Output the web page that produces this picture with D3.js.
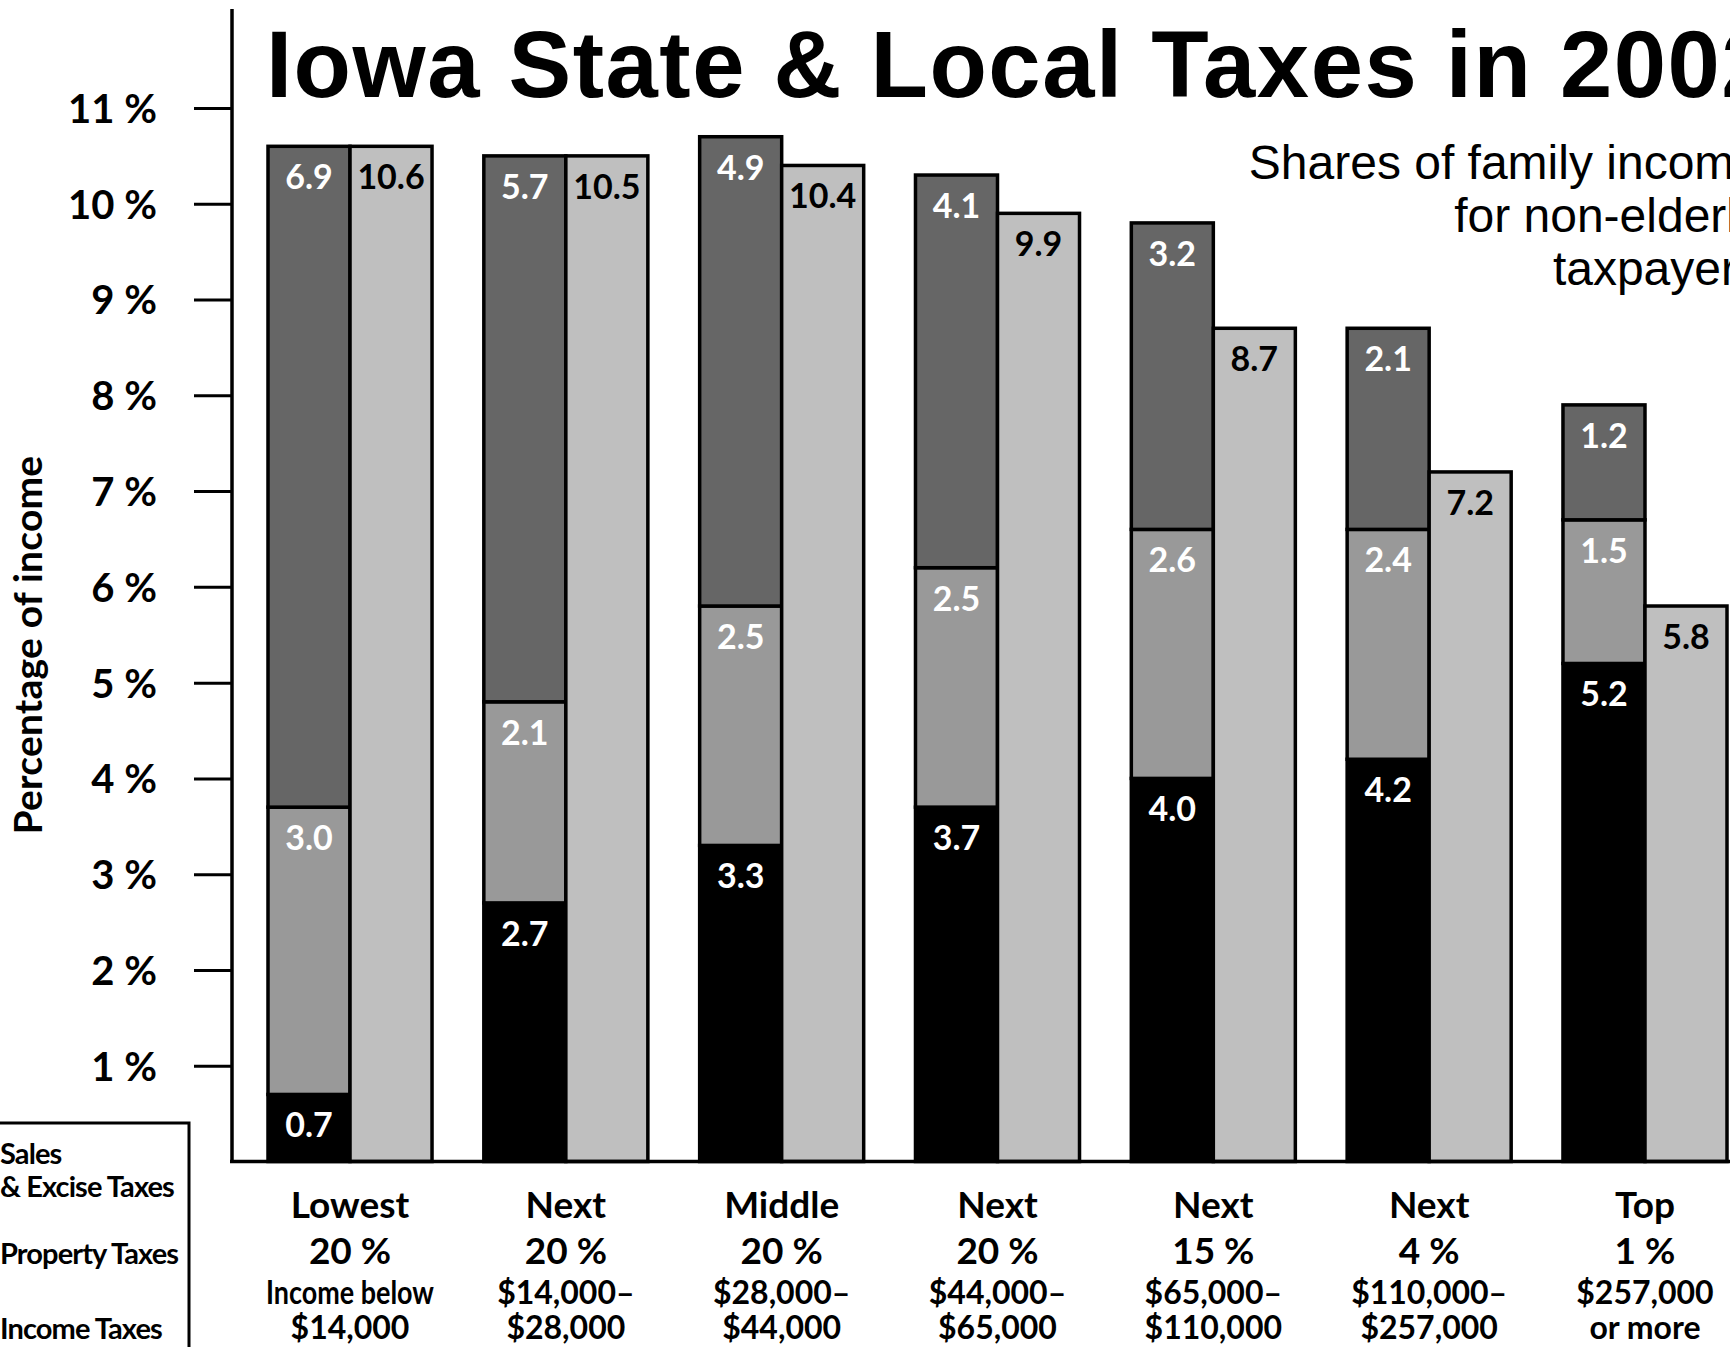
<!DOCTYPE html>
<html lang="en">
<head>
<meta charset="utf-8">
<script src="https://d3js.org/d3.v7.min.js"></script>
<style>
  body { margin: 0; background: #fff; }
  svg { display: block; }
  .tick text { font-family: Lato, sans-serif; font-weight: 700; }
</style>
</head>
<body>
<div id="chart"></div>
<script>
// income groups and their label lines
var groups = ["Lowest 20%", "Next 20% a", "Middle 20%", "Next 20% b", "Next 15%", "Next 4%", "Top 1%"];
var groupLine1 = ["Lowest", "Next", "Middle", "Next", "Next", "Next", "Top"];
var groupLine2 = ["20 %", "20 %", "20 %", "20 %", "15 %", "4 %", "1 %"];
var groupLine3 = ["Income below", "$14,000\u2013", "$28,000\u2013", "$44,000\u2013", "$65,000\u2013", "$110,000\u2013", "$257,000"];
var groupLine4 = ["$14,000", "$28,000", "$44,000", "$65,000", "$110,000", "$257,000", "or more"];

// shares of income, percent
var incomeTaxes   = [0.7, 2.7, 3.3, 3.7, 4.0, 4.2, 5.2];
var propertyTaxes = [3.0, 2.1, 2.5, 2.5, 2.6, 2.4, 1.5];
var salesTaxes    = [6.9, 5.7, 4.9, 4.1, 3.2, 2.1, 1.2];
var totalTaxes    = [10.6, 10.5, 10.4, 9.9, 8.7, 7.2, 5.8];

var yTicks = [1, 2, 3, 4, 5, 6, 7, 8, 9, 10, 11];

var W = 1730, H = 1347;
var svg = d3.select("#chart").append("svg")
    .attr("width", W).attr("height", H);

var y = d3.scaleLinear().domain([0, 11]).range([1161.5, 108]);

var x = d3.scaleBand().domain(groups).range([268, 1727]).paddingInner(0.24).paddingOuter(0);
var xs = d3.scaleBand().domain(["stack", "total"]).range([0, x.bandwidth()]);

// stacked segments, bottom to top
var segs = [];
groups.forEach(function(g, i) {
    var base = 0;
    [[incomeTaxes[i], "#000000"], [propertyTaxes[i], "#999999"], [salesTaxes[i], "#666666"]].forEach(function(s) {
        segs.push({g: g, y0: base, y1: base + s[0], v: s[0], fill: s[1]});
        base += s[0];
    });
});

var barG = svg.append("g");

barG.selectAll(".seg")
    .data(segs)
    .enter().append("rect")
    .attr("class", "seg")
    .attr("x", function(d) { return x(d.g) + xs("stack"); })
    .attr("width", xs.bandwidth())
    .attr("y", function(d) { return y(d.y1); })
    .attr("height", function(d) { return y(d.y0) - y(d.y1); })
    .attr("fill", function(d) { return d.fill; })
    .attr("stroke", "#000")
    .attr("stroke-width", 3.5);

barG.selectAll(".tot")
    .data(groups)
    .enter().append("rect")
    .attr("class", "tot")
    .attr("x", function(d) { return x(d) + xs("total"); })
    .attr("width", xs.bandwidth())
    .attr("y", function(d, i) { return y(totalTaxes[i]); })
    .attr("height", function(d, i) { return y(0) - y(totalTaxes[i]); })
    .attr("fill", "#bfbfbf")
    .attr("stroke", "#000")
    .attr("stroke-width", 3.5);

// value labels
var lblFont = "Lato, 'Open Sans', sans-serif";
barG.selectAll(".segLbl")
    .data(segs)
    .enter().append("text")
    .attr("x", function(d) { return x(d.g) + xs("stack") + xs.bandwidth() / 2; })
    .attr("y", function(d) { return y(d.y1) + 43; })
    .attr("text-anchor", "middle")
    .style("font-family", lblFont)
    .style("font-weight", 700)
    .style("font-size", "34px")
    .style("fill", "#fff")
    .text(function(d) { return d.v.toFixed(1); });

barG.selectAll(".totLbl")
    .data(groups)
    .enter().append("text")
    .attr("x", function(d) { return x(d) + xs("total") + xs.bandwidth() / 2; })
    .attr("y", function(d, i) { return y(totalTaxes[i]) + 43; })
    .attr("text-anchor", "middle")
    .style("font-family", lblFont)
    .style("font-weight", 700)
    .style("font-size", "34px")
    .style("fill", "#000")
    .text(function(d, i) { return totalTaxes[i].toFixed(1); });

// y axis
var yAxis = svg.append("g")
    .attr("transform", "translate(232,0)")
    .call(d3.axisLeft(y).tickValues(yTicks).tickSize(38).tickPadding(37)
        .tickFormat(function(d) { return d + " %"; }));
yAxis.select(".domain").remove();
yAxis.selectAll(".tick line").attr("stroke", "#000").attr("stroke-width", 3);
yAxis.selectAll(".tick text").style("font-size", "40px").attr("dy", "0.36em");

svg.append("line")
    .attr("x1", 232).attr("x2", 232).attr("y1", 9).attr("y2", y(0) + 1.5)
    .attr("stroke", "#000").attr("stroke-width", 3.5);
svg.append("line")
    .attr("x1", 230).attr("x2", W).attr("y1", y(0)).attr("y2", y(0))
    .attr("stroke", "#000").attr("stroke-width", 3.5);

svg.append("text")
    .attr("transform", "translate(42,645) rotate(-90)")
    .attr("text-anchor", "middle")
    .style("font-family", lblFont)
    .style("font-weight", 700)
    .style("font-size", "39px")
    .style("letter-spacing", "0.2px")
    .text("Percentage of income");

// category labels
var catG = svg.append("g");
var lines = [
    {arr: groupLine1, dy: 1218, size: 37, maxW: 999},
    {arr: groupLine2, dy: 1264, size: 37, maxW: 999},
    {arr: groupLine3, dy: 1304, size: 32, maxW: 168},
    {arr: groupLine4, dy: 1339, size: 32, maxW: 999}
];
lines.forEach(function(L) {
    catG.selectAll(null)
        .data(groups)
        .enter().append("text")
        .attr("x", function(d) { return x(d) + x.bandwidth() / 2; })
        .attr("y", L.dy)
        .attr("text-anchor", "middle")
        .style("font-family", lblFont)
        .style("font-weight", 700)
        .style("font-size", L.size + "px")
        .text(function(d, i) { return L.arr[i]; })
        .each(function(d, i) {
            // the word line is set condensed in the original
            if (/^[A-Za-z]/.test(L.arr[i]) && this.getComputedTextLength() > L.maxW) {
                d3.select(this).attr("textLength", L.maxW).attr("lengthAdjust", "spacingAndGlyphs");
            }
        });
});

// title and subtitle
svg.append("text")
    .attr("x", 266).attr("y", 97)
    .style("font-family", "'Liberation Sans', Arial, sans-serif")
    .style("font-weight", 700)
    .style("font-size", "94px")
    .style("letter-spacing", "1.5px")
    .text("Iowa State & Local Taxes in 2002");

var subLines = ["Shares of family income", "for non-elderly", "taxpayers"];
svg.selectAll(".sub")
    .data(subLines)
    .enter().append("text")
    .attr("x", 1761)
    .attr("y", function(d, i) { return 179 + i * 53; })
    .attr("text-anchor", "end")
    .style("font-family", "'Liberation Sans', Arial, sans-serif")
    .style("font-size", "48px")
    .text(function(d) { return d; });

// legend (cut at left edge)
svg.append("path")
    .attr("d", "M0,1123 H189 V1347")
    .attr("fill", "none").attr("stroke", "#000").attr("stroke-width", 3);
var legendLines = [["Sales", 1164], ["& Excise Taxes", 1197], ["Property Taxes", 1264], ["Income Taxes", 1339]];
svg.selectAll(".leg")
    .data(legendLines)
    .enter().append("text")
    .attr("x", 0)
    .attr("y", function(d) { return d[1]; })
    .style("font-family", lblFont)
    .style("font-weight", 700)
    .style("font-size", "29px")
    .style("letter-spacing", "-0.9px")
    .text(function(d) { return d[0]; });
</script>
</body>
</html>
